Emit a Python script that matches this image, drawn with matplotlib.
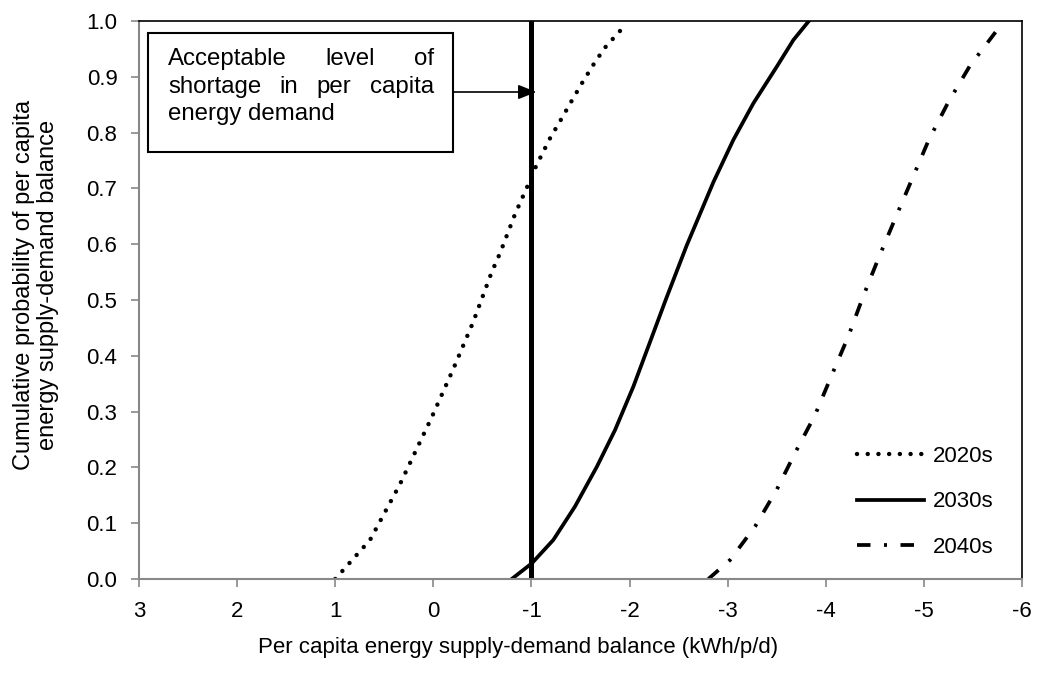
#!/usr/bin/env python3
"""
Cumulative probability of per capita energy supply-demand balance.
"""

import matplotlib
matplotlib.use("Agg")
import matplotlib.pyplot as plt
from matplotlib.patches import Rectangle

plt.rcParams['font.family'] = ['Liberation Sans', 'DejaVu Sans']

# balance (kWh/p/d) vs cumulative probability
x_2020s = [1.0, 0.645, 0.34, 0.016, -0.2, -0.405, -0.595, -0.68, -0.833, -0.962,
           -1.047, -1.19, -1.30, -1.404, -1.513, -1.625, -1.743, -1.886, -1.97]
p_2020s = [0.0, 0.07, 0.17, 0.29, 0.375, 0.46, 0.55, 0.584, 0.654, 0.705,
           0.74, 0.79, 0.823, 0.855, 0.888, 0.92, 0.951, 0.979, 0.995]

x_2030s = [-0.799, -1.003, -1.223, -1.444, -1.666, -1.852, -2.039, -2.209,
           -2.37, -2.583, -2.854, -3.058, -3.262, -3.50, -3.67, -3.823]
p_2030s = [0.0, 0.028, 0.07, 0.13, 0.201, 0.267, 0.345, 0.425,
           0.501, 0.598, 0.711, 0.787, 0.8525, 0.918, 0.966, 0.999]

x_2040s = [-2.803, -3.024, -3.279, -3.50, -3.687, -3.891, -4.06, -4.23, -4.38,
           -4.54, -4.71, -4.88, -5.05, -5.25, -5.47, -5.73]
p_2040s = [0.0, 0.034, 0.094, 0.16, 0.226, 0.294, 0.365, 0.435, 0.506,
           0.576, 0.647, 0.717, 0.787, 0.855, 0.92, 0.98]

acceptable_level = -1
x_ticks = [3, 2, 1, 0, -1, -2, -3, -4, -5, -6]
y_ticks = [0.0, 0.1, 0.2, 0.3, 0.4, 0.5, 0.6, 0.7, 0.8, 0.9, 1.0]

FS = 16
BOX_FS = 17.3
W, H = 1037, 677

fig = plt.figure(figsize=(W / 100, H / 100), dpi=100)
ax = fig.add_axes([139 / W, 1 - 579 / H, (1022 - 139) / W, (579 - 21) / H])

ax.plot(x_2020s, p_2020s, color='black', lw=3.2, linestyle=(0, (0.01, 2.4)),
        dash_capstyle='round', label='2020s')
ax.plot(x_2030s, p_2030s, color='black', lw=2.7, linestyle='-', label='2030s',
        solid_joinstyle='round')
ax.plot(x_2040s, p_2040s, color='black', lw=2.7,
        linestyle=(0, (3.6, 3.6, 0.8, 3.6)), label='2040s')
ax.plot([acceptable_level, acceptable_level], [0, 1], color='black', lw=3.6)

ax.set_xlim(3, -6)
ax.set_ylim(0, 1.0)
ax.set_xticks(x_ticks)
ax.set_xticklabels([str(t) for t in x_ticks])
ax.set_yticks(y_ticks)
ax.set_yticklabels([f"{t:.1f}" for t in y_ticks])
ax.tick_params(axis='both', labelsize=FS, direction='out', length=5.5,
               color='#888888', width=1.2)
ax.tick_params(axis='x', pad=10)
ax.tick_params(axis='y', pad=10)

for side in ['left', 'bottom']:
    ax.spines[side].set_color('#888888')
    ax.spines[side].set_linewidth(1.5)
for side in ['top', 'right']:
    ax.spines[side].set_color('black')
    ax.spines[side].set_linewidth(1.2)

fig.text(0.5, 1 - 648 / H, 'Per capita energy supply-demand balance (kWh/p/d)',
         ha='center', va='center', fontsize=FS)
fig.text(36 / W, 1 - 285 / H,
         'Cumulative probability of per capita\nenergy supply-demand balance',
         ha='center', va='center', rotation=90, fontsize=17, linespacing=1.08)

leg = ax.legend(loc='lower right', frameon=False, fontsize=FS,
                handlelength=3.0, handletextpad=0.4, labelspacing=1.1,
                bbox_to_anchor=(0.99, 0.002))

# annotation box with justified text
box_l, box_r, box_t, box_b = 148, 453, 33, 152
ax.add_patch(Rectangle(((box_l - 139) / 883, (579 - box_b) / 558),
                       (box_r - box_l) / 883, (box_b - box_t) / 558,
                       transform=ax.transAxes, facecolor='white',
                       edgecolor='black', lw=1.5, zorder=5))

renderer = fig.canvas.get_renderer()


def justified_line(words, left, right, y, justify=True):
    texts = [fig.text(0, 1 - y / H, w, fontsize=BOX_FS, ha='left',
                      va='baseline', zorder=6) for w in words]
    widths = [t.get_window_extent(renderer).width for t in texts]
    if justify and len(words) > 1:
        gap = (right - left - sum(widths)) / (len(words) - 1)
    else:
        probe = fig.text(0, 0, 'a a', fontsize=BOX_FS)
        probe2 = fig.text(0, 0, 'aa', fontsize=BOX_FS)
        gap = (probe.get_window_extent(renderer).width
               - probe2.get_window_extent(renderer).width)
        probe.remove()
        probe2.remove()
    x = left
    for t, w in zip(texts, widths):
        t.set_x(x / W)
        x += w + gap


justified_line(['Acceptable', 'level', 'of'], 168, 434, 65)
justified_line(['shortage', 'in', 'per', 'capita'], 168, 434, 93)
justified_line(['energy', 'demand'], 168, 434, 120, justify=False)

ax.annotate('', xy=(acceptable_level - 0.05, (579 - 92) / 558),
            xytext=((box_r - 139) / 883, (579 - 92) / 558),
            xycoords='data', textcoords='axes fraction',
            arrowprops=dict(arrowstyle='-|>,head_length=0.55,head_width=0.22',
                            color='black', lw=1.2,
                            mutation_scale=20, shrinkA=0, shrinkB=0),
            zorder=6)

fig.savefig('out.png', dpi=100)
